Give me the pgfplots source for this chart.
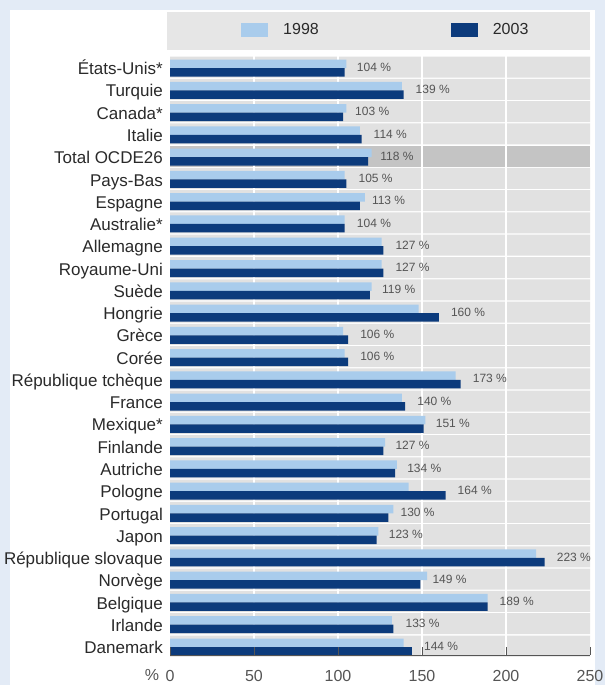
\documentclass[border=0pt]{standalone}
\usepackage{fontspec}
\setmainfont{Liberation Sans}
\usepackage{pgfplots}
\usepackage{pgfplotstable}
\pgfplotsset{compat=1.18}
\definecolor{bgblue}{HTML}{E3EBF6}
\definecolor{stripe}{HTML}{E1E1E1}
\definecolor{stripedark}{HTML}{C4C4C4}
\definecolor{legband}{HTML}{E6E6E6}
\definecolor{lightbar}{HTML}{A9CCEC}
\definecolor{darkbar}{HTML}{0C3B7C}
\definecolor{txt}{HTML}{2A2A2A}
\definecolor{numtxt}{HTML}{555555}

% y: 0 = Danemark (bottom) ... 26 = Etats-Unis (top)
\pgfplotstableread{
y  v
0  139
1  132
2  189
3  153
4  218
5  124
6  133
7  142
8  135
9  128
10 152
11 138
12 170
13 104
14 103
15 148
16 120
17 126
18 126
19 104
20 116
21 104
22 120
23 113
24 105
25 138
26 105
}\lightdata
\pgfplotstableread{
y  v
0  144
1  133
2  189
3  149
4  223
5  123
6  130
7  164
8  134
9  127
10 151
11 140
12 173
13 106
14 106
15 160
16 119
17 127
18 127
19 104
20 113
21 105
22 118
23 114
24 103
25 139
26 104
}\darkdata
\pgfplotstableread{
y  v
0  250
1  250
2  250
3  250
4  250
5  250
6  250
7  250
8  250
9  250
10 250
11 250
12 250
13 250
14 250
15 250
16 250
17 250
18 250
19 250
20 250
21 250
23 250
24 250
25 250
26 250
}\stripedata

\begin{document}
\begin{tikzpicture}[x=1pt,y=1pt]
\useasboundingbox (0,0) rectangle (605,685);
\fill[bgblue] (0,0) rectangle (605,685);
\fill[white] (10,0) rectangle (595,675);
\fill[legband] (167,635) rectangle (590,673);
\begin{axis}[
  at={(170pt,30pt)}, anchor=south west,
  scale only axis, width=420pt, height=599pt,
  xmin=0, xmax=250, ymin=-0.404, ymax=26.5,
  axis on top,
  /pgf/number format/assume math mode=true,
  axis x line*=bottom, axis y line*=left,
  y axis line style={draw=none},
  x axis line style={draw=numtxt, line width=0.6pt},
  xtick={0,50,100,150,200,250},
  tick align=inside,
  xtick style={draw=numtxt, line width=0.7pt},
  major tick length=8pt,
  ytick={0,...,26},
  ytick style={draw=none},
  yticklabels={Danemark,Irlande,Belgique,Norvège,République slovaque,Japon,Portugal,Pologne,Autriche,Finlande,Mexique*,France,République tchèque,Corée,Grèce,Hongrie,Suède,Royaume-Uni,Allemagne,Australie*,Espagne,Pays-Bas,Total OCDE26,Italie,Canada*,Turquie,États-Unis*},
  yticklabel style={font=\fontsize{17}{20}\selectfont, text=txt, inner sep=0pt, xshift=-7pt, yshift=-5pt, text height=0.72em, text depth=0.2em},
  xticklabel style={font=\fontsize{16}{18}\selectfont, text=numtxt, yshift=-12pt},
  legend style={at={(0.162,1.0434)}, anchor=west, draw=none, fill=none,
    font=\fontsize{16}{18}\selectfont, text=txt, nodes={inner sep=0pt},
    /tikz/every odd column/.append style={column sep=15pt},
    /tikz/every even column/.append style={column sep=132pt}},
  legend columns=2,
  clip=false,
]
\addplot[xbar, bar width=0.943, bar shift=0pt, fill=stripe, draw=none, forget plot] table[x=v,y=y] {\stripedata};
\addplot[xbar, bar width=0.943, bar shift=0pt, fill=stripedark, draw=none, forget plot] coordinates {(250,22)};
\draw[white, line width=1.5pt] (axis cs:50,-0.404) -- (axis cs:50,26.5);
\draw[white, line width=1.5pt] (axis cs:100,-0.404) -- (axis cs:100,26.5);
\draw[white, line width=1.5pt] (axis cs:150,-0.404) -- (axis cs:150,26.5);
\draw[white, line width=1.5pt] (axis cs:200,-0.404) -- (axis cs:200,26.5);
\addplot[xbar, bar width=0.382, bar shift=0.146, fill=lightbar, draw=none,
  legend image code/.code={\fill[lightbar] (0pt,-7pt) rectangle (27pt,7pt);}]
  table[x=v,y=y] {\lightdata};
\addlegendentry{1998}
\addplot[xbar, bar width=0.382, bar shift=-0.236, fill=darkbar, draw=none,
  point meta=x,
  nodes near coords={\pgfmathprintnumber{\pgfplotspointmeta}~\%},
  nodes near coords style={anchor=west, inner sep=0pt, xshift=12pt, font=\fontsize{12}{14}\selectfont, text=numtxt},
  legend image code/.code={\fill[darkbar] (0pt,-7pt) rectangle (27pt,7pt);}]
  table[x=v,y=y] {\darkdata};
\addlegendentry{2003}
\end{axis}
\node[font=\fontsize{16}{18}\selectfont, text=numtxt] at (152,10) {\%};
\end{tikzpicture}
\end{document}
